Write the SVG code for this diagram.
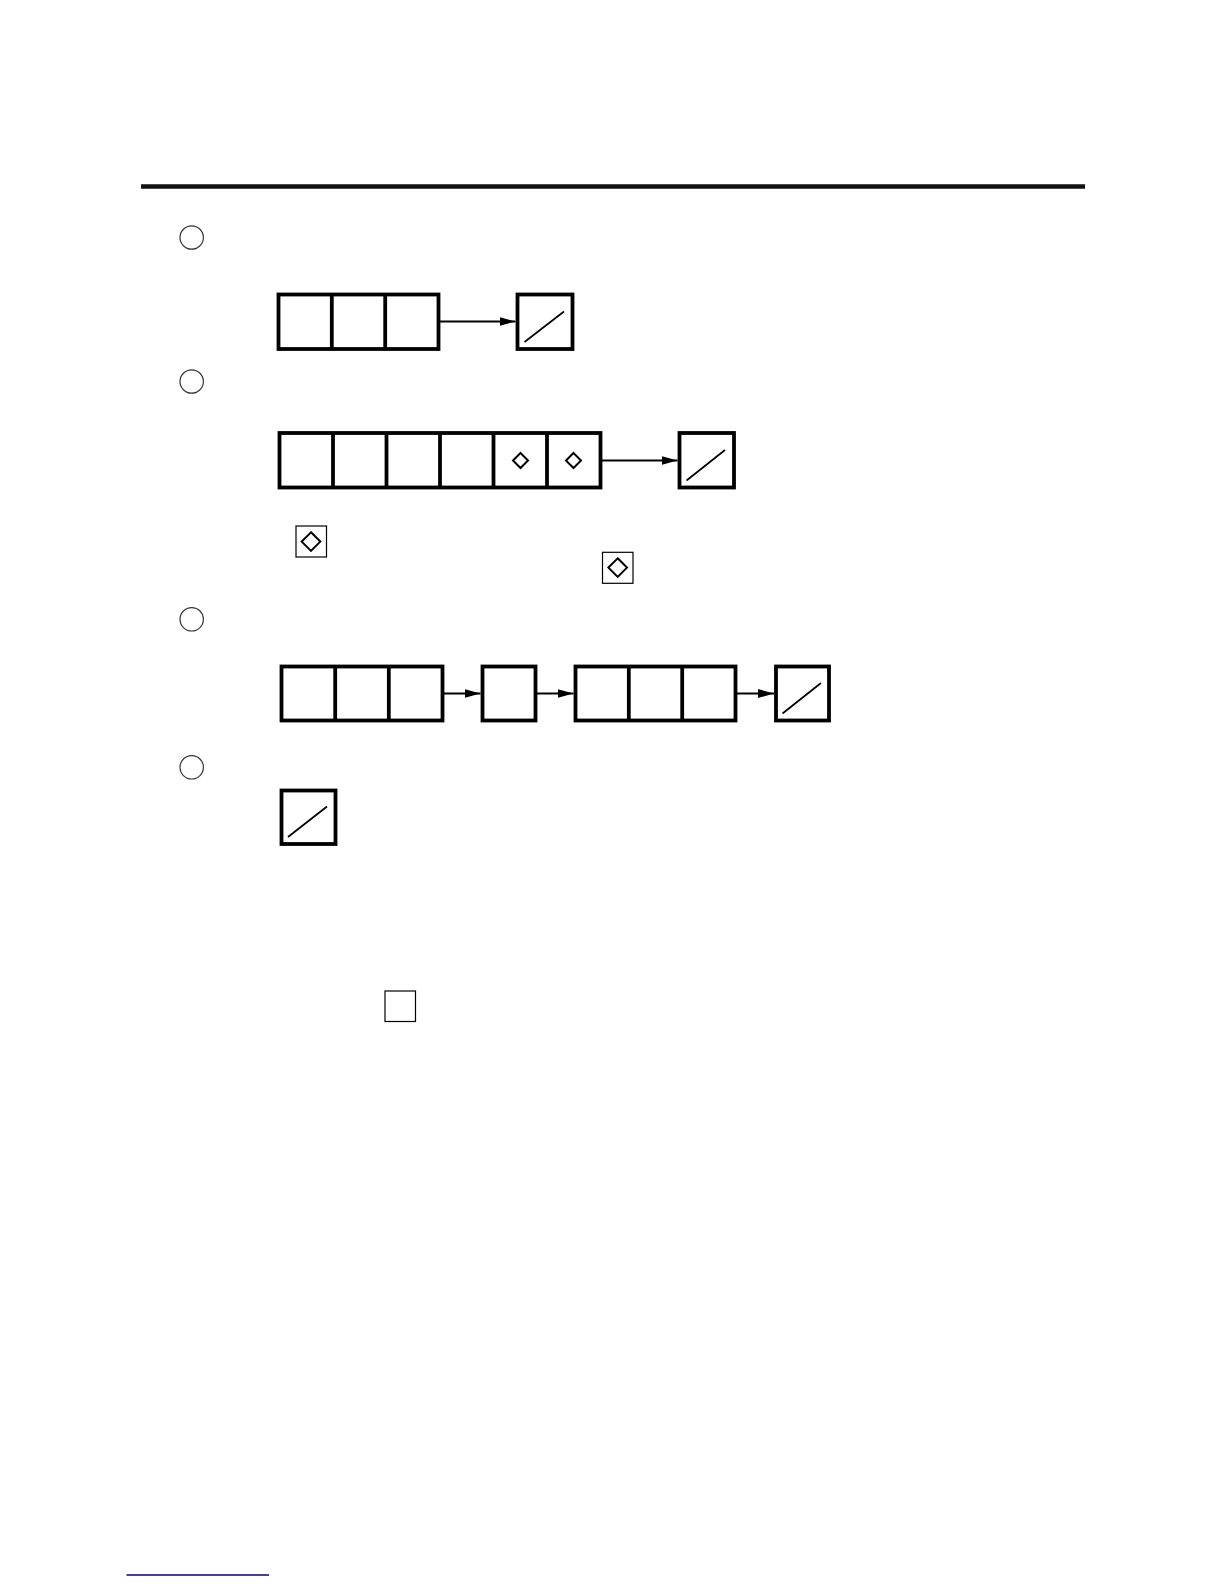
<svg xmlns="http://www.w3.org/2000/svg" width="1224" height="1584" viewBox="0 0 1224 1584">
<defs>
<style>
.cell{fill:none;stroke:#000;stroke-width:3.8}
.div{stroke:#000;stroke-width:3.8}
.diag{stroke:#000;stroke-width:1.7}
.circ{fill:none;stroke:#333;stroke-width:1.2}
.dia{fill:none;stroke:#000;stroke-width:2}
.thin{fill:none;stroke:#000;stroke-width:1.2}
.conn{stroke:#000;stroke-width:1.8;fill:none}
</style>
<marker id="ah" markerUnits="userSpaceOnUse" markerWidth="16" markerHeight="10" refX="16" refY="5" orient="auto">
<path d="M0,0.5 L16,5 L0,9.5 z" fill="#000"/>
</marker>
</defs>
<rect width="1224" height="1584" fill="#fff"/>
<line x1="141" y1="186.5" x2="1085" y2="186.5" stroke="#111" stroke-width="4.5"/>

<g id="markers">
<circle class="circ" cx="191.7" cy="237.5" r="11.7"/>
<circle class="circ" cx="191.7" cy="381.5" r="11.7"/>
<circle class="circ" cx="191.7" cy="619.3" r="11.7"/>
<circle class="circ" cx="191.7" cy="767.3" r="11.7"/>
</g>

<g id="row1-cells">
<rect class="cell" x="278.5" y="294.5" width="160" height="54.5"/>
<line class="div" x1="331.8" y1="294.5" x2="331.8" y2="349"/>
<line class="div" x1="385.2" y1="294.5" x2="385.2" y2="349"/>
</g>
<g id="row1-end">
<rect class="cell" x="517.5" y="294.5" width="55" height="54.5"/>
<line class="diag" x1="524.5" y1="342" x2="564" y2="311.5"/>
</g>

<g id="row2-cells">
<rect class="cell" x="279.5" y="433" width="321" height="54.5"/>
<line class="div" x1="333" y1="433" x2="333" y2="487.5"/>
<line class="div" x1="386.5" y1="433" x2="386.5" y2="487.5"/>
<line class="div" x1="440" y1="433" x2="440" y2="487.5"/>
<line class="div" x1="493.5" y1="433" x2="493.5" y2="487.5"/>
<line class="div" x1="547" y1="433" x2="547" y2="487.5"/>
<path class="dia" d="M520.5,453 L528,460.5 L520.5,468 L513,460.5 z"/>
<path class="dia" d="M573.5,453 L581,460.5 L573.5,468 L566,460.5 z"/>
</g>
<g id="row2-end">
<rect class="cell" x="679.5" y="433" width="54.5" height="54.5"/>
<line class="diag" x1="686.5" y1="480.5" x2="725" y2="450"/>
</g>

<g id="legend-a">
<rect class="thin" x="296" y="526" width="30.5" height="31"/>
<path class="dia" d="M311,532.3 L320.3,541.6 L311,550.9 L301.7,541.6 z"/>
</g>
<g id="legend-b">
<rect class="thin" x="602.5" y="552.3" width="30.5" height="31"/>
<path class="dia" d="M617.7,558.3 L627,567.6 L617.7,576.9 L608.4,567.6 z"/>
</g>

<g id="row3-a">
<rect class="cell" x="281.5" y="666.5" width="161" height="54"/>
<line class="div" x1="335.2" y1="666.5" x2="335.2" y2="720.5"/>
<line class="div" x1="388.8" y1="666.5" x2="388.8" y2="720.5"/>
</g>
<g id="row3-b">
<rect class="cell" x="482.5" y="666.5" width="53" height="54"/>
</g>
<g id="row3-c">
<rect class="cell" x="575.5" y="666.5" width="160" height="54"/>
<line class="div" x1="628.8" y1="666.5" x2="628.8" y2="720.5"/>
<line class="div" x1="682.2" y1="666.5" x2="682.2" y2="720.5"/>
</g>
<g id="row3-end">
<rect class="cell" x="776" y="666.5" width="53" height="54"/>
<line class="diag" x1="782.5" y1="713.5" x2="821" y2="683"/>
</g>

<g id="row4-end">
<rect class="cell" x="281.5" y="790.5" width="54" height="53.5"/>
<line class="diag" x1="288" y1="837" x2="327" y2="806.5"/>
</g>

<g id="blank-box">
<rect class="thin" x="385" y="991" width="30.5" height="30.5"/>
</g>

<g id="connectors">
<line class="conn" x1="440" y1="321.5" x2="515.5" y2="321.5" marker-end="url(#ah)"/>
<line class="conn" x1="602" y1="460.5" x2="677.5" y2="460.5" marker-end="url(#ah)"/>
<line class="conn" x1="444" y1="693.5" x2="480.5" y2="693.5" marker-end="url(#ah)"/>
<line class="conn" x1="537" y1="693.5" x2="573.5" y2="693.5" marker-end="url(#ah)"/>
<line class="conn" x1="737" y1="693.5" x2="774" y2="693.5" marker-end="url(#ah)"/>
</g>

<line x1="126.5" y1="1575" x2="269" y2="1575" stroke="#00008b" stroke-width="1.4"/>
</svg>
